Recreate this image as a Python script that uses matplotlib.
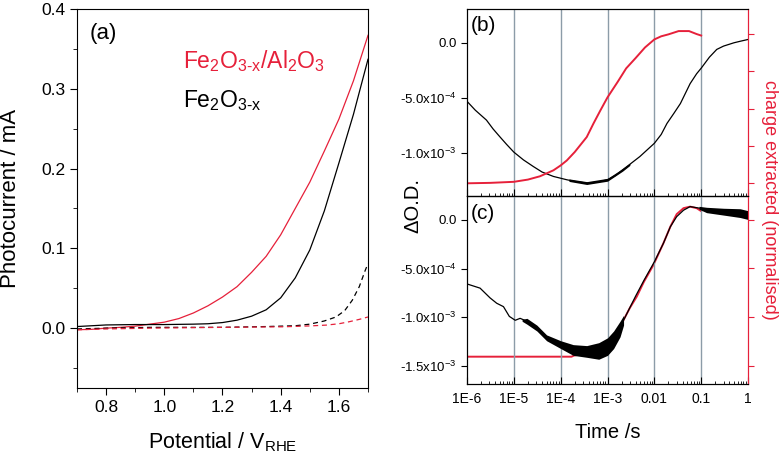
import numpy as np
import matplotlib
matplotlib.use('Agg')
import matplotlib.pyplot as plt
from matplotlib.ticker import MultipleLocator, LogLocator, NullFormatter, FixedLocator

plt.rcParams['font.family'] = ['Liberation Sans', 'DejaVu Sans']
plt.rcParams['mathtext.fontset'] = 'custom'
plt.rcParams['mathtext.rm'] = 'Liberation Sans'
plt.rcParams['mathtext.it'] = 'Liberation Sans'
plt.rcParams['mathtext.default'] = 'regular'

RED = '#e6203a'
GRID = '#8c9ca8'

# (a) photocurrent vs potential (light: solid, dark: dashed)
v_red = [0.70, 0.75, 0.80, 0.85, 0.90, 0.95, 1.00, 1.05, 1.10, 1.15, 1.20, 1.25, 1.30,
         1.35, 1.40, 1.45, 1.50, 1.55, 1.60, 1.65, 1.70]
i_red = [-0.002, -0.0015, 0.0, 0.001, 0.0025, 0.005, 0.0075, 0.012, 0.019, 0.028, 0.039,
         0.052, 0.070, 0.090, 0.117, 0.150, 0.183, 0.222, 0.262, 0.310, 0.367]
v_blk = [0.70, 0.80, 0.90, 1.00, 1.10, 1.15, 1.20, 1.25, 1.30, 1.35, 1.40, 1.45, 1.50,
         1.55, 1.60, 1.65, 1.70]
i_blk = [0.002, 0.004, 0.0045, 0.0045, 0.005, 0.0055, 0.007, 0.010, 0.015, 0.023, 0.038,
         0.063, 0.098, 0.147, 0.207, 0.268, 0.337]
v_blk_dark = [0.70, 0.80, 0.95, 1.20, 1.35, 1.45, 1.50, 1.55, 1.59, 1.62, 1.646, 1.67, 1.69, 1.70]
i_blk_dark = [-0.001, 0.0, 0.001, 0.001, 0.002, 0.003, 0.005, 0.009, 0.014, 0.022, 0.035,
              0.052, 0.072, 0.081]
v_red_dark = [0.70, 0.80, 0.95, 1.20, 1.41, 1.50, 1.556, 1.60, 1.635, 1.67, 1.70]
i_red_dark = [-0.002, -0.001, 0.0, 0.001, 0.0017, 0.0028, 0.0038, 0.0055, 0.008, 0.011, 0.014]

# (b) TAS signal (x1e-3) and charge extracted (normalised)
t_b_blk = [1e-6, 1.5e-6, 2.6e-6, 3.6e-6, 5e-6, 7e-6, 1e-5, 1.6e-5, 2.6e-5, 4e-5, 7e-5,
           1.35e-4, 2e-4, 3.6e-4, 6e-4, 1e-3, 1.5e-3, 2.1e-3, 3e-3, 4.9e-3, 7e-3, 1e-2,
           1.4e-2, 1.86e-2, 2.6e-2, 3.6e-2, 5.8e-2, 8e-2, 0.1, 0.15, 0.215, 0.3, 0.5, 0.7, 1.0]
od_b_blk = [-0.53, -0.61, -0.70, -0.78, -0.85, -0.92, -0.99, -1.06, -1.12, -1.17, -1.21,
            -1.24, -1.255, -1.27, -1.262, -1.24, -1.20, -1.15, -1.10, -1.03, -0.97, -0.91,
            -0.83, -0.73, -0.64, -0.55, -0.37, -0.28, -0.23, -0.13, -0.06, -0.03, 0.0, 0.015, 0.03]
t_b_band = [1.5e-4, 3.6e-4, 1e-3, 2.1e-3, 3e-3]
od_b_lo = [-1.255, -1.283, -1.253, -1.162, -1.11]
od_b_hi = [-1.232, -1.257, -1.227, -1.138, -1.09]
t_b_red = [1e-6, 3.16e-6, 1e-5, 2e-5, 3.6e-5, 7e-5, 1e-4, 1.35e-4, 2e-4, 3.6e-4, 5e-4,
           7e-4, 1e-3, 1.65e-3, 2.5e-3, 4e-3, 6.3e-3, 1e-2, 1.4e-2, 2e-2, 3.3e-2, 5.5e-2,
           8e-2, 0.1]
q_b_red = [0.0, 0.003, 0.01, 0.025, 0.047, 0.087, 0.12, 0.153, 0.21, 0.31, 0.40,
           0.487, 0.576, 0.68, 0.77, 0.84, 0.91, 0.964, 0.985, 0.998, 1.02, 1.02,
           1.0, 0.99]

# (c)
t_c_blk = [1e-6, 1.9e-6, 3.1e-6, 4.3e-6, 6e-6, 8e-6, 1.07e-5, 1.36e-5, 1.9e-5, 3.1e-5,
           5e-5, 1e-4, 1.85e-4, 3.6e-4, 6.5e-4, 1e-3, 1.35e-3, 1.85e-3, 2.2e-3, 3e-3,
           4.0e-3, 6e-3, 1e-2, 1.56e-2, 2.2e-2, 3.0e-2, 4.2e-2, 5.8e-2, 9.5e-2, 0.13,
           0.3, 0.68, 1.0]
od_c_blk = [-0.657, -0.70, -0.80, -0.855, -0.89, -0.99, -1.03, -1.01, -1.04, -1.11,
            -1.21, -1.28, -1.335, -1.35, -1.335, -1.30, -1.23, -1.11, -1.03, -0.90,
            -0.78, -0.62, -0.43, -0.24, -0.069, 0.034, 0.10, 0.137, 0.12, 0.10,
            0.085, 0.07, 0.05]
t_c_band1 = [1.5e-5, 1.9e-5, 3.1e-5, 5e-5, 1e-4, 1.85e-4, 3.6e-4, 6.5e-4, 1e-3, 1.35e-3,
             1.85e-3, 2.2e-3]
od_c_lo1 = [-1.04, -1.07, -1.14, -1.24, -1.32, -1.39, -1.41, -1.43, -1.39, -1.32, -1.20, -1.08]
od_c_hi1 = [-1.02, -1.01, -1.08, -1.18, -1.24, -1.28, -1.29, -1.26, -1.21, -1.14, -1.04, -0.98]
t_c_band2 = [0.09, 0.13, 0.3, 0.68, 1.0]
od_c_lo2 = [0.11, 0.075, 0.05, 0.025, 0.005]
od_c_hi2 = [0.14, 0.13, 0.12, 0.115, 0.095]
t_c_red = [1e-6, 1.7e-4, 1.9e-4, 5e-4, 1e-3, 1.5e-3, 2.2e-3, 3e-3, 4.2e-3, 6e-3, 9.5e-3,
           1.56e-2, 2.2e-2, 3.0e-2, 4.2e-2, 5.8e-2, 8e-2, 0.1]
q_c_red = [0.0, 0.0, 0.007, 0.03, 0.08, 0.15, 0.245, 0.325, 0.40, 0.50, 0.61,
           0.756, 0.867, 0.95, 0.99, 1.0, 0.99, 0.97]

time_ticks = [1e-6, 1e-5, 1e-4, 1e-3, 1e-2, 1e-1, 1]
time_labels = ['1E-6', '1E-5', '1E-4', '1E-3', '0.01', '0.1', '1']
grid_times = [1e-5, 1e-4, 1e-3, 1e-2, 1e-1]
od_ticks_b = [-1.0e-3, -5.0e-4, 0.0]
od_labels_b = ['-1.0x10$^{-3}$', '-5.0x10$^{-4}$', '0.0']
od_ticks_c = [-1.5e-3, -1.0e-3, -5.0e-4, 0.0]
od_labels_c = ['-1.5x10$^{-3}$', '-1.0x10$^{-3}$', '-5.0x10$^{-4}$', '0.0']

fig = plt.figure(figsize=(7.84, 4.54), dpi=100)

# ---- panel (a)
ax = fig.add_axes([0.0982, 0.1454, 0.3712, 0.8348])
ax.plot(v_red, i_red, color=RED, lw=0.9)
ax.plot(v_blk, i_blk, color='black', lw=0.9)
ax.plot(v_blk_dark, i_blk_dark, color='black', lw=0.9, ls=(0, (4, 3)))
ax.plot(v_red_dark, i_red_dark, color=RED, lw=0.9, ls=(0, (4, 3)))
ax.set_xlim(0.7, 1.7)
ax.set_ylim(-0.075, 0.4)
ax.xaxis.set_minor_locator(MultipleLocator(0.1))
ax.yaxis.set_minor_locator(MultipleLocator(0.05))
ax.set_xticks([0.8, 1.0, 1.2, 1.4, 1.6])
ax.set_xticklabels(['0.8', '1.0', '1.2', '1.4', '1.6'])
ax.set_yticks([0.0, 0.1, 0.2, 0.3, 0.4])
ax.set_yticklabels(['0.0', '0.1', '0.2', '0.3', '0.4'])
ax.tick_params(which='major', direction='out', length=5, labelsize=12.5)
ax.tick_params(which='minor', direction='out', length=3)
ax.set_xlabel('Potential / V$_{RHE}$', fontsize=15.5, labelpad=11)
ax.set_ylabel('Photocurrent / mA', fontsize=16, labelpad=14)
ax.text(0.045, 0.962, '(a)', transform=ax.transAxes, fontsize=16, va='top')
ax.text(0.364, 0.844, r'Fe$_2$O$_{3\text{-}x}$/Al$_2$O$_3$', transform=ax.transAxes,
        fontsize=16.5, color=RED, va='baseline')
ax.text(0.364, 0.741, r'Fe$_2$O$_{3\text{-}x}$', transform=ax.transAxes,
        fontsize=16.5, color='black', va='baseline')

# ---- panels (b) and (c), shared time axis
axb = fig.add_axes([0.5957, 0.5683, 0.3584, 0.4119])
axc = fig.add_axes([0.5957, 0.1542, 0.3584, 0.4141])

for a in (axb, axc):
    a.set_xscale('log')
    a.set_xlim(1e-6, 1)
    for g in grid_times:
        a.axvline(g, color=GRID, lw=1.0, zorder=0)
    a.xaxis.set_major_locator(FixedLocator(time_ticks))
    a.xaxis.set_minor_locator(LogLocator(base=10, subs=np.arange(2, 10), numticks=20))
    a.xaxis.set_minor_formatter(NullFormatter())
    a.tick_params(axis='x', which='major', direction='in', length=5)
    a.tick_params(axis='x', which='minor', direction='in', length=2.5)
    a.tick_params(axis='y', which='major', direction='out', length=4, labelsize=9.5)
    a.spines['right'].set_color(RED)

axb.plot(t_b_blk, np.array(od_b_blk) * 1e-3, color='black', lw=0.9)
axb.fill_between(t_b_band, np.array(od_b_lo) * 1e-3, np.array(od_b_hi) * 1e-3,
                 color='black', lw=0)
axb.set_ylim(-1.387e-3, 0.306e-3)
axb.set_yticks(od_ticks_b)
axb.set_yticklabels(od_labels_b)
axb.set_xticklabels([])
axb.text(0.014, 0.96, '(b)', transform=axb.transAxes, fontsize=15, va='top')

axb2 = axb.twinx()
axb2.plot(t_b_red, q_b_red, color=RED, lw=1.4)
axb2.set_ylim(-0.085, 1.168)
axb2.set_yticks([0, 0.25, 0.5, 0.75, 1.0])
axb2.set_yticklabels([])
axb2.tick_params(axis='y', direction='out', length=4, color=RED)
axb2.spines['right'].set_color(RED)

axc.plot(t_c_blk, np.array(od_c_blk) * 1e-3, color='black', lw=0.9)
axc.fill_between(t_c_band1, np.array(od_c_lo1) * 1e-3, np.array(od_c_hi1) * 1e-3,
                 color='black', lw=0)
axc.fill_between(t_c_band2, np.array(od_c_lo2) * 1e-3, np.array(od_c_hi2) * 1e-3,
                 color='black', lw=0)
axc.set_ylim(-1.684e-3, 0.246e-3)
axc.set_yticks(od_ticks_c)
axc.set_yticklabels(od_labels_c)
axc.set_xticklabels(time_labels)
axc.tick_params(axis='x', which='major', labelsize=10, pad=6)
axc.set_xlabel('Time /s', fontsize=14.5, labelpad=12)
axc.text(0.014, 0.96, '(c)', transform=axc.transAxes, fontsize=15, va='top')

axc2 = axc.twinx()
axc2.plot(t_c_red, q_c_red, color=RED, lw=1.4)
axc2.set_ylim(-0.182, 1.071)
axc2.set_yticks([-0.062, 0.265, 0.591, 0.911])
axc2.set_yticklabels([])
axc2.tick_params(axis='y', direction='out', length=4, color=RED)
axc2.spines['right'].set_color(RED)
# black trace drawn over the red one in (c)
axc.set_zorder(axc2.get_zorder() + 1)
axc.patch.set_visible(False)

fig.text(0.527, 0.548, u'\u0394O.D.', rotation=90, fontsize=14.5, ha='center', va='center')
fig.text(0.982, 0.56, 'charge extracted (normalised)', rotation=270, fontsize=13,
         color=RED, ha='center', va='center')

fig.savefig('out.png', dpi=100)
